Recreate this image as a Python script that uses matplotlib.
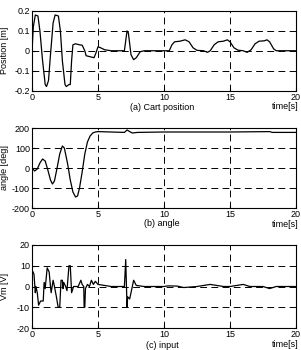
import matplotlib
matplotlib.use("Agg")
import matplotlib.pyplot as plt

plt.rcParams["font.family"] = ["Liberation Sans", "DejaVu Sans"]
plt.rcParams["font.size"] = 6.5

# (a) cart position [m]
pos_t = [0, 0.1, 0.25, 0.45, 0.6, 0.8, 1.0, 1.1, 1.25, 1.4, 1.6, 1.75, 2.0, 2.15, 2.3,
         2.5, 2.6, 2.8, 2.9, 3.0, 3.1, 3.3, 3.6, 3.8, 4.0, 4.1, 4.4, 4.7, 4.85, 5.0,
         5.2, 5.5, 6.0, 7.0, 7.1, 7.2, 7.3, 7.5, 7.7, 7.9, 8.2, 8.5, 10.0, 10.4, 10.6,
         10.8, 11.2, 11.6, 11.9, 12.2, 12.5, 13.0, 13.3, 13.5, 13.8, 14.1, 14.5, 14.8,
         15.0, 15.3, 15.6, 16.0, 16.3, 16.6, 16.9, 17.2, 17.6, 17.8, 18.0, 18.3, 18.5, 20]
pos_x = [0, 0.12, 0.18, 0.175, 0.1, -0.05, -0.17, -0.18, -0.15, -0.02, 0.14, 0.18, 0.175,
         0.1, -0.05, -0.17, -0.18, -0.17, -0.17, -0.05, 0.03, 0.035, 0.03, 0.028, 0.0,
         -0.025, -0.03, -0.035, -0.01, 0.02, 0.015, 0.005, 0.0, 0.0, 0.05, 0.1, 0.09,
         -0.02, -0.045, -0.035, -0.005, 0.0, 0.0, 0.0, 0.03, 0.045, 0.048, 0.055, 0.045,
         0.015, 0.002, 0.0, -0.008, 0.0, 0.03, 0.045, 0.048, 0.055, 0.045, 0.015, 0.003,
         0.0, -0.008, 0.005, 0.035, 0.048, 0.05, 0.055, 0.045, 0.01, 0.0, 0.0]

# (b) pendulum angle [deg]
ang_t = [0, 0.2, 0.4, 0.6, 0.8, 1.0, 1.2, 1.4, 1.55, 1.7, 1.9, 2.1, 2.3, 2.45, 2.7, 2.9,
         3.1, 3.3, 3.45, 3.6, 3.8, 4.0, 4.2, 4.4, 4.6, 4.8, 5.0, 6.0, 7.0, 7.2, 7.4, 7.6,
         8.0, 10.0, 15.0, 18.0, 18.2, 20]
ang_v = [0, -15, -5, 25, 45, 35, -10, -60, -80, -65, 0, 70, 110, 100, 20, -60, -120,
         -145, -140, -100, -20, 70, 130, 160, 175, 180, 182, 180, 178, 190, 182, 175,
         178, 180, 180, 182, 178, 178]

# (c) input voltage [V]
vin_t = [0, 0.15, 0.25, 0.3, 0.4, 0.5, 0.65, 0.85, 0.92, 1.0, 1.15, 1.3, 1.4, 1.45, 1.6,
         1.7, 1.85, 1.98, 2.1, 2.2, 2.3, 2.35, 2.4, 2.55, 2.65, 2.8, 2.9, 3.0, 3.15, 3.5,
         3.7, 3.8, 3.92, 3.95, 4.0, 4.05, 4.2, 4.35, 4.5, 4.65, 4.8, 5.0, 6.0, 7.0, 7.1,
         7.2, 7.25, 7.4, 7.7, 7.9, 8.5, 10.0, 10.3, 11.0, 11.5, 12.5, 13.5, 14.5, 15.0,
         16.0, 16.5, 17.5, 18.0, 18.5, 20]
vin_v = [8, 6, -3, 0, -3, -9, -7, -7, 2, -1, 9, 7, 0, -3, 3, 0, -5, -10, -10, 3, 3, -1,
         2, 0, -2, 10, 10, -3, 0, 0, 3, 1, 0, -10, -10, -1, 1, 0, 3, 1, 2.5, 1, 0, 0,
         13, -10, -5, -6, 3, 0.5, 0, 0, 0.3, 0.2, -0.5, 0, 1, 0, 0, 1, 0, 0, -1, 0, 0]

W, H = 301, 350
fig = plt.figure(figsize=(W / 100, H / 100), dpi=100)

# pixel layout: (axes top, axes bottom), caption y, "time[s]" y
panels = [
    (pos_t, pos_x, (-0.2, 0.2), [-0.2, -0.1, 0, 0.1, 0.2],
     ["-0.2", "-0.1", "0", "0.1", "0.2"], "Position [m]", "(a) Cart position",
     (11, 90.5), 108, 106.5),
    (ang_t, ang_v, (-200, 200), [-200, -100, 0, 100, 200],
     ["-200", "-100", "0", "100", "200"], "angle [deg]", "(b) angle",
     (128, 208), 224, 224.5),
    (vin_t, vin_v, (-20, 20), [-20, -10, 0, 10, 20],
     ["-20", "-10", "0", "10", "20"], "Vm [V]", "(c) input",
     (245, 328), 345, 344.5),
]

for t, v, ylim, yt, ytl, ylab, cap, (top, bot), cap_y, time_y in panels:
    ax = fig.add_axes([32 / W, 1 - bot / H, 264 / W, (bot - top) / H])
    ax.plot(t, v, color="black", lw=0.9)
    ax.set_xlim(0, 20)
    ax.set_ylim(*ylim)
    ax.set_xticks([0, 5, 10, 15, 20])
    ax.set_yticks(yt)
    ax.set_yticklabels(ytl)
    ax.grid(True, color="black", ls=(0, (7, 4.5)), lw=0.7)
    ax.tick_params(direction="in", length=2, pad=1.5, labelsize=6.5)
    for s in ax.spines.values():
        s.set_linewidth(0.8)
    ax.set_ylabel(ylab, fontsize=6.5)
    ax.yaxis.set_label_coords(-0.088, 0.5)
    fig.text(162 / W, 1 - cap_y / H, cap, ha="center", va="center", fontsize=6.5)
    fig.text(285 / W, 1 - time_y / H, "time[s]", ha="center", va="center", fontsize=6.5)

fig.savefig("out.png", dpi=100)
